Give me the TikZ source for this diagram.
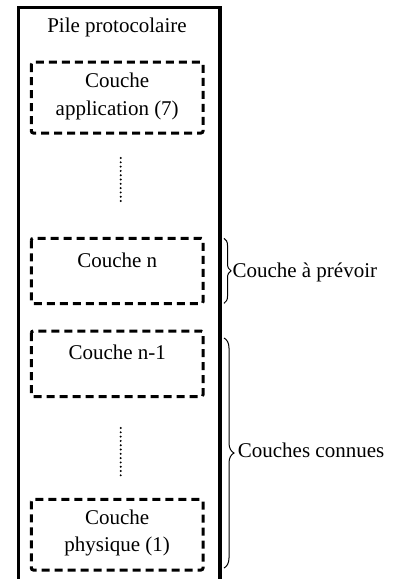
\documentclass[tikz,border=0pt]{standalone}
\usepackage{fontspec}
\setmainfont{Liberation Serif}
\usetikzlibrary{decorations.pathreplacing}
\begin{document}
\begin{tikzpicture}[x=1pt,y=-1pt,
  stackbox/.style={draw, line width=3.2pt, inner sep=0pt},
  layerbox/.style={draw, line width=3pt, dash pattern=on 8pt off 5pt,
    rounded corners=2pt, inner sep=0pt},
  txt/.style={font=\fontsize{21}{27}\selectfont, inner sep=0pt, anchor=base},
  vdots/.style={line width=2.2pt, line cap=round, dash pattern=on 0pt off 4.3pt},
  brc/.style={decorate, line width=1pt}]
\useasboundingbox (0,0) rectangle (394,579);

% outer frame of the protocol stack (runs past the lower edge)
\begin{scope}
  \clip (0,0) rectangle (394,579);
  \coordinate (stackNW) at (18.4,7.7);
  \coordinate (stackSE) at (220,600);
  \draw[stackbox] (stackNW) rectangle (stackSE);
\end{scope}
\node[txt] (title) at (117,32.7) {Pile protocolaire};

% layers
\coordinate (l7a) at (31.3,62);   \coordinate (l7b) at (203,133);
\coordinate (lna) at (31.3,238.3); \coordinate (lnb) at (203,303.7);
\coordinate (lma) at (31.3,331);  \coordinate (lmb) at (203,396.7);
\coordinate (l1a) at (31.3,499.3); \coordinate (l1b) at (203,570);
\draw[layerbox] (l7a) rectangle (l7b);
\draw[layerbox] (lna) rectangle (lnb);
\draw[layerbox] (lma) rectangle (lmb);
\draw[layerbox] (l1a) rectangle (l1b);

\node[txt] (t7a) at (117.2,87.7) {Couche};
\node[txt] (t7b) at (117.2,115) {application (7)};
\node[txt] (tn)  at (117.2,267.3) {Couche n};
\node[txt] (tm)  at (117.2,359.3) {Couche n-1};
\node[txt] (t1a) at (117.2,524.3) {Couche};
\node[txt] (t1b) at (117.2,551.7) {physique (1)};

% elided layers
\coordinate (d1a) at (120.7,158); \coordinate (d1b) at (120.7,205);
\coordinate (d2a) at (120.7,428); \coordinate (d2b) at (120.7,476);
\draw[vdots] (d1a) -- (d1b);
\draw[vdots] (d2a) -- (d2b);

% braces and their labels
\coordinate (b1a) at (224,238.3); \coordinate (b1b) at (224,303.3);
\coordinate (b2a) at (224,338);   \coordinate (b2b) at (224,568);
\draw[brc, decoration={brace, amplitude=7pt}] (b1a) -- (b1b);
\draw[brc, decoration={brace, amplitude=10pt}] (b2a) -- (b2b);
\node[txt, anchor=base west] (lab1) at (232.3,277.3) {Couche à prévoir};
\node[txt, anchor=base west] (lab2) at (237.7,457.3) {Couches connues};
\end{tikzpicture}
\end{document}
